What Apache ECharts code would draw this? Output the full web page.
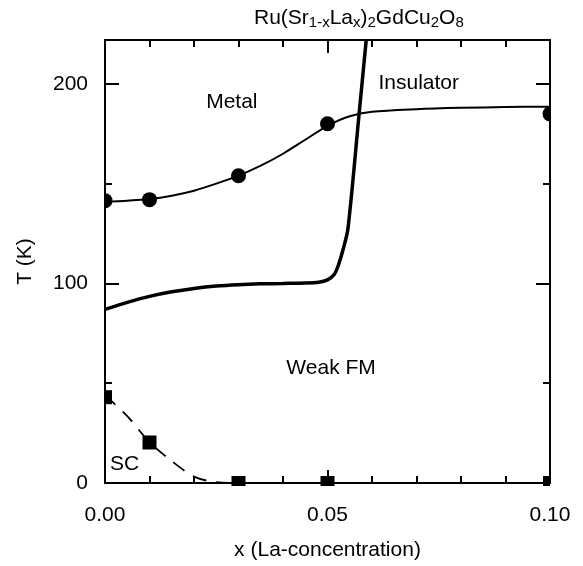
<!DOCTYPE html>
<html><head><meta charset="utf-8">
<script src="https://cdn.jsdelivr.net/npm/echarts@6/dist/echarts.min.js"></script>
<style>html,body{margin:0;padding:0;background:#fff}#c{width:583px;height:566px}</style>
</head><body><div id="c"></div>
<script>
// Metal–Weak FM transition (circles) and its guide curve
const metalX = [0, 0.01, 0.03, 0.05, 0.10];
const metalT = [141.5, 142, 154, 180, 185];
const metalFitX = [0, 0.005, 0.01, 0.015, 0.02, 0.025, 0.03, 0.035, 0.04, 0.045, 0.05, 0.055, 0.06, 0.07, 0.08, 0.09, 0.10];
const metalFitT = [141, 141.5, 142.3, 144, 146.5, 150, 154, 159, 165, 172, 179, 183.8, 186, 187.3, 188, 188.4, 188.6];
// Weak FM boundary (thick line)
const fmX = [0, 0.005, 0.01, 0.015, 0.02, 0.025, 0.03, 0.035, 0.04, 0.045, 0.048, 0.05, 0.0515, 0.0525, 0.0535, 0.0546, 0.0571, 0.0587];
const fmT = [87, 90.5, 93.5, 95.8, 97.5, 98.7, 99.4, 99.8, 100, 100.2, 100.6, 101.8, 104.5, 109.5, 117, 127.5, 185, 222];
// Superconducting Tc (squares) and dashed guide
const scX = [0, 0.01, 0.03, 0.05, 0.10];
const scT = [43, 20.3, 0, 0, 0];
const scFitX = [0, 0.005, 0.01, 0.015, 0.02, 0.025, 0.03];
const scFitT = [44, 33.5, 20.5, 11, 3.2, 0.4, 0];
// Region labels
const regionNames = ['Metal', 'Insulator', 'Weak FM', 'SC'];
const regionX = [0.0285, 0.0705, 0.0508, 0.0044];
const regionT = [190.6, 200.6, 57.7, 9.5];
// Axis ranges / ticks
const xMin = 0, xMax = 0.10, xStep = 0.05;
const yMin = 0, yMax = 222, yStep = 100;

const zip = (a, b) => a.map((v, i) => [v, b[i]]);
const F = '"Liberation Sans", Arial, Helvetica, sans-serif';
const W = 583, H = 566;
const G = {left: 105, right: 33, top: 40, bottom: 80};

const lineS = {color: '#000', width: 2};
function xAx(pos, labels) {
  return {
    type: 'value', min: xMin, max: xMax, interval: xStep, position: pos, z: 10,
    axisLine: {show: true, onZero: false, lineStyle: lineS},
    axisTick: {show: true, inside: true, length: 13, lineStyle: lineS},
    minorTick: {show: true, splitNumber: 5, length: 7, lineStyle: lineS},
    splitLine: {show: false}, minorSplitLine: {show: false},
    axisLabel: {show: labels, fontSize: 21, color: '#000', fontFamily: F, margin: 22,
      formatter: v => v.toFixed(2)},
    name: labels ? 'x (La-concentration)' : '', nameLocation: 'middle', nameGap: 57,
    nameTextStyle: {fontSize: 21, color: '#000', fontFamily: F}
  };
}
function yAx(pos, labels) {
  return {
    type: 'value', min: yMin, max: yMax, interval: yStep, position: pos, z: 10,
    axisLine: {show: true, onZero: false, lineStyle: lineS},
    axisTick: {show: true, inside: true, length: 14, lineStyle: lineS},
    minorTick: {show: true, splitNumber: 2, length: 7, lineStyle: lineS},
    splitLine: {show: false}, minorSplitLine: {show: false},
    axisLabel: {show: labels, fontSize: 21, color: '#000', fontFamily: F, margin: 17,
      formatter: v => (Math.abs(v % 100) < 1e-9 ? String(v) : '')},
    name: labels ? 'T (K)' : '', nameLocation: 'middle', nameGap: 69, nameRotate: 90,
    nameTextStyle: {fontSize: 21, color: '#000', fontFamily: F}
  };
}

const gx1 = G.left, gx2 = W - G.right, gy1 = G.top, gy2 = H - G.bottom;
const mask = (x, y, w, h) => ({type: 'rect', z: 5, silent: true, shape: {x, y, width: w, height: h}, style: {fill: '#fff'}});

const chart = echarts.init(document.getElementById('c'), null, {renderer: 'canvas'});
chart.setOption({
  animation: false,
  backgroundColor: '#fff',
  title: {
    text: 'Ru(Sr{s|1-x}La{s|x}){s|2}GdCu{s|2}O{s|8}',
    left: 254, top: 6, padding: 0, z: 12,
    textStyle: {fontSize: 21, fontWeight: 'normal', color: '#000', fontFamily: F, lineHeight: 24,
      rich: {s: {fontSize: 15, color: '#000', fontFamily: F, lineHeight: 10, verticalAlign: 'bottom'}}}
  },
  grid: {left: G.left, right: G.right, top: G.top, bottom: G.bottom, containLabel: false},
  xAxis: [xAx('bottom', true), xAx('top', false)],
  yAxis: [yAx('left', true), yAx('right', false)],
  graphic: {elements: [
    mask(0, 0, W, gy1), mask(0, gy2, W, H - gy2), mask(0, 0, gx1, H), mask(gx2, 0, W - gx2, H)
  ]},
  series: [
    {type: 'line', data: zip(metalFitX, metalFitT), smooth: 0.3, showSymbol: false,
      lineStyle: {color: '#000', width: 2}, z: 2},
    {type: 'scatter', data: zip(metalX, metalT), symbol: 'circle', symbolSize: 15, clip: false,
      itemStyle: {color: '#000', opacity: 1}, z: 3},
    {type: 'line', data: zip(fmX, fmT), smooth: 0.3, showSymbol: false,
      lineStyle: {color: '#000', width: 3.5}, z: 2},
    {type: 'line', data: zip(scFitX, scFitT), smooth: 0.3, showSymbol: false,
      lineStyle: {color: '#000', width: 1.8, type: [14, 10]}, z: 2},
    {type: 'scatter', data: zip(scX, scT), symbol: 'rect', symbolSize: 14, clip: false,
      itemStyle: {color: '#000', opacity: 1}, z: 3},
    {type: 'scatter', clip: false, symbol: 'circle', symbolSize: 1, itemStyle: {color: 'rgba(0,0,0,0)', opacity: 1},
      data: regionNames.map((n, i) => ({name: n, value: [regionX[i], regionT[i]]})),
      label: {show: true, position: 'inside', formatter: p => p.name, fontSize: 21, color: '#000', opacity: 1, fontFamily: F},
      z: 4}
  ]
});
</script></body></html>
